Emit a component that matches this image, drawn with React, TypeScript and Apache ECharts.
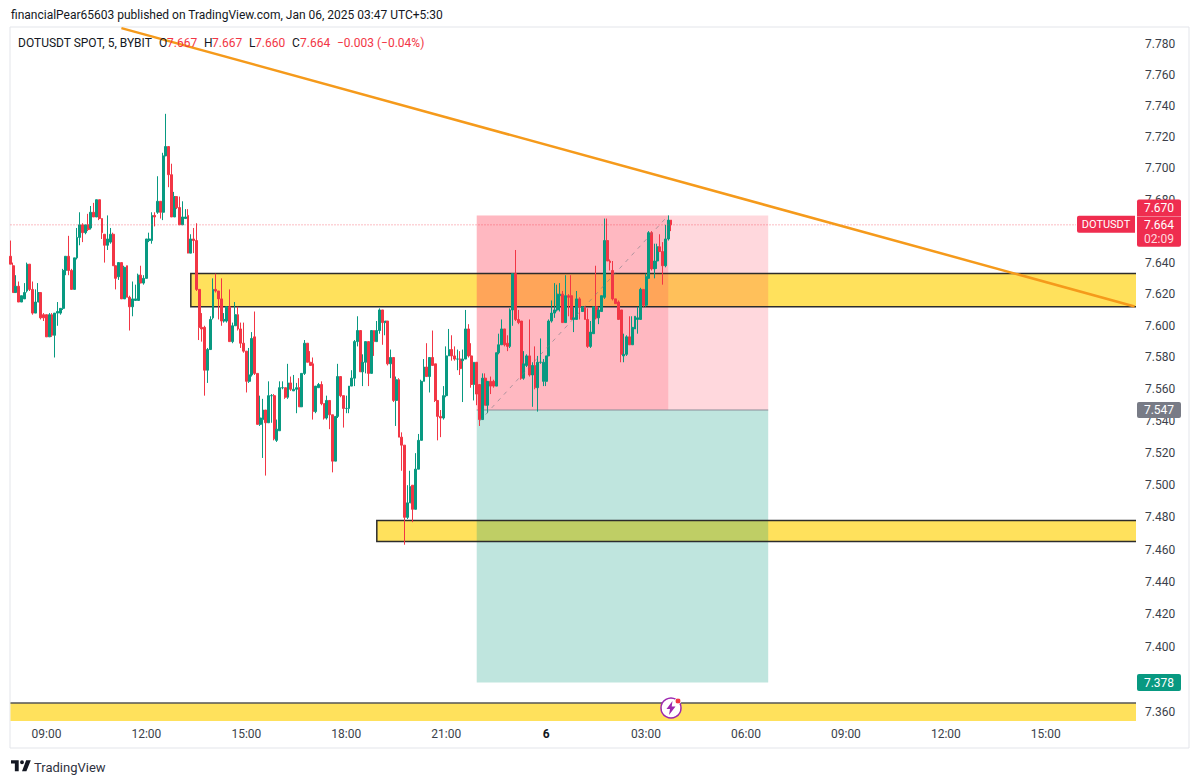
import React, { useEffect, useRef } from "react";
import * as echarts from "echarts";

// ---------- candle values (5 minute bars, the first one at 07:55) ----------
const opens = [
  7.644,7.638,7.621,7.625,7.615,7.617,7.622,7.639,7.623,7.608,
  7.615,7.621,7.607,7.607,7.593,7.607,7.594,7.608,7.608,7.611,
  7.635,7.644,7.635,7.623,7.643,7.656,7.664,7.659,7.664,7.662,
  7.672,7.669,7.680,7.668,7.658,7.651,7.653,7.658,7.638,7.631,
  7.640,7.617,7.638,7.618,7.612,7.616,7.616,7.632,7.627,7.630,
  7.654,7.654,7.670,7.672,7.679,7.672,7.708,7.714,7.696,7.669,
  7.682,7.675,7.664,7.668,7.670,7.646,7.655,7.654,7.623,7.599,
  7.599,7.572,7.585,7.605,7.623,7.622,7.617,7.603,7.603,7.612,
  7.590,7.600,7.607,7.598,7.589,7.584,7.565,7.569,7.593,7.570,
  7.538,7.541,7.547,7.539,7.556,7.556,7.528,7.534,7.561,7.561,
  7.555,7.564,7.559,7.560,7.561,7.549,7.570,7.589,7.577,7.576,
  7.546,7.561,7.563,7.551,7.542,7.553,7.544,7.515,7.543,7.568,
  7.556,7.548,7.548,7.562,7.567,7.590,7.597,7.571,7.577,7.590,
  7.570,7.597,7.590,7.597,7.610,7.602,7.603,7.576,7.580,7.553,
  7.566,7.530,7.525,7.480,7.489,7.500,7.485,7.510,7.528,7.565,
  7.574,7.568,7.580,7.576,7.553,7.543,7.542,7.556,7.581,7.585,
  7.581,7.579,7.579,7.578,7.579,7.598,7.581,7.563,7.577,7.563,
  7.541,7.567,7.550,7.565,7.565,7.562,7.583,7.588,7.598,7.589,
  7.587,7.610,7.633,7.604,7.603,7.567,7.575,7.581,7.569,7.575,
  7.561,7.577,7.565,7.565,7.581,7.603,7.608,7.610,7.619,7.620,
  7.602,7.619,7.619,7.604,7.604,7.617,7.609,7.612,7.604,7.587,
  7.595,7.612,7.605,7.609,7.618,7.654,7.641,7.635,7.617,7.615,
  7.610,7.581,7.582,7.593,7.588,7.598,7.604,7.604,7.623,7.613,
  7.630,7.659,7.636,7.641,7.650,7.647,7.638,7.655,7.667,
];
const highs = [
  7.654,7.640,7.632,7.628,7.619,7.627,7.640,7.639,7.628,7.623,
  7.627,7.621,7.608,7.607,7.608,7.608,7.608,7.615,7.611,7.636,
  7.644,7.657,7.636,7.643,7.662,7.672,7.665,7.664,7.671,7.676,
  7.678,7.680,7.680,7.668,7.658,7.670,7.662,7.659,7.638,7.640,
  7.640,7.638,7.638,7.619,7.628,7.626,7.633,7.638,7.632,7.655,
  7.659,7.672,7.672,7.695,7.679,7.710,7.735,7.714,7.703,7.685,
  7.682,7.682,7.679,7.674,7.674,7.658,7.662,7.665,7.623,7.608,
  7.600,7.586,7.606,7.630,7.633,7.622,7.630,7.608,7.612,7.623,
  7.602,7.615,7.612,7.602,7.602,7.584,7.586,7.596,7.609,7.570,
  7.556,7.554,7.547,7.565,7.557,7.557,7.541,7.565,7.565,7.561,
  7.576,7.568,7.569,7.564,7.567,7.570,7.591,7.589,7.584,7.580,
  7.562,7.564,7.565,7.551,7.556,7.553,7.544,7.543,7.576,7.568,
  7.556,7.556,7.562,7.572,7.591,7.606,7.597,7.582,7.590,7.590,
  7.597,7.597,7.603,7.611,7.610,7.603,7.603,7.585,7.580,7.568,
  7.567,7.533,7.525,7.500,7.509,7.500,7.520,7.532,7.566,7.579,
  7.589,7.580,7.597,7.576,7.553,7.547,7.562,7.587,7.598,7.594,
  7.587,7.585,7.584,7.585,7.610,7.601,7.589,7.577,7.577,7.563,
  7.570,7.570,7.565,7.568,7.566,7.583,7.595,7.604,7.598,7.594,
  7.611,7.633,7.648,7.610,7.603,7.584,7.582,7.604,7.577,7.587,
  7.581,7.592,7.579,7.581,7.604,7.616,7.627,7.626,7.627,7.622,
  7.632,7.620,7.632,7.612,7.622,7.618,7.612,7.612,7.611,7.603,
  7.612,7.638,7.612,7.619,7.668,7.668,7.642,7.641,7.617,7.616,
  7.610,7.595,7.594,7.606,7.606,7.606,7.612,7.624,7.623,7.633,
  7.660,7.660,7.652,7.652,7.658,7.653,7.664,7.670,7.667,
];
const lows = [
  7.639,7.621,7.621,7.615,7.615,7.617,7.621,7.622,7.607,7.608,
  7.615,7.604,7.603,7.593,7.593,7.593,7.580,7.600,7.607,7.610,
  7.632,7.632,7.623,7.623,7.642,7.651,7.653,7.658,7.660,7.661,
  7.669,7.669,7.667,7.655,7.640,7.648,7.652,7.638,7.623,7.629,
  7.617,7.617,7.618,7.597,7.606,7.616,7.616,7.627,7.626,7.630,
  7.653,7.652,7.663,7.671,7.668,7.667,7.708,7.688,7.669,7.669,
  7.674,7.664,7.664,7.668,7.646,7.646,7.646,7.622,7.591,7.590,
  7.556,7.564,7.585,7.604,7.621,7.604,7.600,7.602,7.602,7.590,
  7.589,7.600,7.597,7.586,7.583,7.558,7.564,7.568,7.569,7.538,
  7.537,7.517,7.506,7.539,7.539,7.528,7.527,7.534,7.560,7.554,
  7.554,7.559,7.559,7.545,7.549,7.549,7.569,7.577,7.575,7.541,
  7.545,7.561,7.550,7.541,7.541,7.535,7.508,7.515,7.542,7.555,
  7.536,7.545,7.545,7.562,7.562,7.587,7.571,7.562,7.570,7.562,
  7.570,7.581,7.590,7.595,7.588,7.594,7.575,7.567,7.552,7.537,
  7.530,7.509,7.463,7.479,7.489,7.477,7.485,7.510,7.528,7.565,
  7.568,7.558,7.575,7.552,7.528,7.530,7.541,7.555,7.581,7.578,
  7.578,7.572,7.569,7.552,7.579,7.580,7.561,7.553,7.550,7.537,
  7.541,7.550,7.545,7.557,7.561,7.562,7.582,7.588,7.587,7.584,
  7.586,7.600,7.603,7.601,7.566,7.566,7.574,7.568,7.549,7.560,
  7.546,7.576,7.562,7.562,7.581,7.602,7.605,7.609,7.609,7.602,
  7.602,7.606,7.604,7.596,7.604,7.604,7.609,7.604,7.586,7.586,
  7.595,7.604,7.601,7.609,7.617,7.641,7.635,7.616,7.614,7.604,
  7.577,7.577,7.581,7.588,7.588,7.598,7.595,7.604,7.612,7.612,
  7.630,7.635,7.630,7.636,7.647,7.626,7.637,7.654,7.660,
];
const closes = [
  7.639,7.621,7.625,7.615,7.619,7.621,7.639,7.623,7.608,7.615,
  7.621,7.605,7.605,7.593,7.607,7.594,7.608,7.609,7.611,7.635,
  7.644,7.635,7.623,7.643,7.656,7.664,7.659,7.664,7.661,7.672,
  7.669,7.680,7.668,7.659,7.651,7.655,7.658,7.638,7.630,7.640,
  7.617,7.637,7.618,7.612,7.617,7.617,7.632,7.627,7.630,7.655,
  7.655,7.670,7.669,7.679,7.672,7.708,7.714,7.696,7.669,7.682,
  7.675,7.664,7.669,7.669,7.646,7.655,7.654,7.623,7.599,7.598,
  7.572,7.585,7.604,7.623,7.622,7.617,7.603,7.604,7.612,7.590,
  7.600,7.607,7.598,7.589,7.584,7.565,7.569,7.592,7.570,7.538,
  7.542,7.547,7.539,7.556,7.556,7.529,7.535,7.561,7.561,7.555,
  7.564,7.560,7.560,7.561,7.549,7.570,7.589,7.577,7.575,7.546,
  7.562,7.563,7.551,7.542,7.553,7.544,7.515,7.543,7.568,7.556,
  7.548,7.548,7.562,7.567,7.590,7.597,7.571,7.577,7.590,7.570,
  7.597,7.590,7.597,7.610,7.602,7.603,7.576,7.580,7.553,7.566,
  7.530,7.525,7.480,7.489,7.499,7.485,7.510,7.528,7.565,7.574,
  7.568,7.580,7.575,7.553,7.543,7.542,7.556,7.581,7.585,7.581,
  7.579,7.579,7.573,7.579,7.598,7.581,7.563,7.577,7.557,7.541,
  7.567,7.550,7.565,7.562,7.562,7.583,7.588,7.598,7.588,7.587,
  7.610,7.633,7.604,7.602,7.567,7.576,7.581,7.569,7.575,7.561,
  7.577,7.577,7.577,7.581,7.603,7.608,7.610,7.620,7.620,7.602,
  7.619,7.618,7.604,7.605,7.617,7.612,7.612,7.604,7.587,7.596,
  7.612,7.605,7.610,7.619,7.654,7.641,7.640,7.617,7.614,7.604,
  7.582,7.582,7.593,7.588,7.599,7.606,7.605,7.623,7.613,7.631,
  7.659,7.636,7.641,7.650,7.647,7.638,7.655,7.667,7.664,
];

// ---------- axes ----------
const BAR_COUNT = 406; // visible slots, future bars included
const FIRST_BAR_MINUTES = 7 * 60 + 55;
const priceTicks = [
  7.36, 7.4, 7.42, 7.44, 7.46, 7.48, 7.5, 7.52, 7.54, 7.56, 7.58, 7.6, 7.62,
  7.64, 7.68, 7.7, 7.72, 7.74, 7.76, 7.78,
];
const timeTicks = ["09:00", "12:00", "15:00", "18:00", "21:00", "00:00", "03:00", "06:00"];
const categories: string[] = [];
for (let k = 0; k < BAR_COUNT; k++) {
  const m = (FIRST_BAR_MINUTES + 5 * k) % 1440;
  categories.push(
    String(Math.floor(m / 60)).padStart(2, "0") + ":" + String(m % 60).padStart(2, "0")
  );
}
const PRICE_MIN = 7.3539;
const PRICE_MAX = 7.791;

// ---------- drawings: bar indexes and prices ----------
// zone: [first bar, top price, bottom price, top+bottom border?]
const zones: [number, number, number, boolean][] = [
  [65, 7.633, 7.612, true],
  [132, 7.478, 7.465, true],
  [0, 7.3655, 7.3545, false],
];
const positionStart = 168;
const positionNow = 237;
const positionEnd = 273;
const stopPrice = 7.67;
const entryPrice = 7.547;
const targetPrice = 7.378;
const lastPrice = 7.664;
const trendPoints: [number, number][] = [[40, 7.7903], [405, 7.6122]];
const pricePathPoints: [number, number][] = [[169, 7.54], [237, 7.67]];

const UP = "#089981";
const DOWN = "#F23645";
const TAG_RED = "#EF2D4F";
const FONT = "Roboto, sans-serif";

echarts.graphic.registerShape(
  "tvlogo",
  echarts.graphic.extendPath(
    "M14 6H0v6h7v14h7V6Z M28 26h-8l7.5-20H36l-8 20Z M20 6a3.5 3.5 0 1 1 0 7a3.5 3.5 0 1 1 0-7Z",
    {}
  )
);
echarts.graphic.registerShape(
  "bolt",
  echarts.graphic.extendPath("M6 0L0 8h3.5L2.5 14L9 5.5H5.2L6 0Z", {})
);

function overlay(z: number, build: (api: any, box: any) => any[]) {
  return {
    type: "custom",
    z,
    silent: true,
    clip: false,
    coordinateSystem: "cartesian2d",
    encode: { x: 0, y: 1 },
    data: [[0, 7.5]],
    renderItem: (params: any, api: any) => ({
      type: "group",
      children: build(api, params.coordSys),
    }),
  };
}

function rectOf(x1: number, y1: number, x2: number, y2: number, fill: string) {
  return {
    type: "rect",
    shape: { x: x1, y: y1, width: x2 - x1, height: y2 - y1 },
    style: { fill },
  };
}
function hLine(x1: number, x2: number, y: number, stroke: string, lineWidth: number, lineDash?: number[]) {
  return {
    type: "line",
    shape: { x1, y1: y, x2, y2: y },
    style: { stroke, lineWidth, lineDash },
  };
}
function labelText(text: string, x: number, y: number, font: string, fill: string, align = "center") {
  return {
    type: "text",
    style: {
      text, x, y, fill, font,
      align, verticalAlign: "middle",
      textAlign: align, textVerticalAlign: "middle",
    },
  };
}
function tagBox(x: number, y: number, w: number, h: number, fill: string, r: any) {
  return { type: "rect", shape: { x, y, width: w, height: h, r }, style: { fill } };
}

export default function App() {
  const ref = useRef<HTMLDivElement>(null);

  useEffect(() => {
    document.body.style.margin = "0";
    document.body.style.background = "#ffffff";
    const chart = echarts.init(ref.current!, undefined, { renderer: "svg" });

    const candleData = opens.map((o, i) => [o, closes[i], lows[i], highs[i]]);

    const legendParts: [string, number, string][] = [
      ["DOTUSDT SPOT, 5, BYBIT", 18, "#131722"],
      ["O", 159, "#131722"],
      ["7.667", 167, DOWN],
      ["H", 204, "#131722"],
      ["7.667", 212, DOWN],
      ["L", 249, "#131722"],
      ["7.660", 255, DOWN],
      ["C", 292, "#131722"],
      ["7.664", 300, DOWN],
      ["\u22120.003 (\u22120.04%)", 337, DOWN],
    ];

    chart.setOption({
      animation: false,
      backgroundColor: "#ffffff",
      grid: { left: 9, top: 27, width: 1127, height: 695, containLabel: false },
      xAxis: {
        type: "category",
        data: categories,
        boundaryGap: true,
        axisLine: { show: false },
        axisTick: { show: false },
        splitLine: { show: false },
        axisLabel: {
          interval: (_i: number, v: string) => timeTicks.includes(v),
          hideOverlap: false,
          margin: 6,
          color: "#3b3f4a",
          fontFamily: FONT,
          fontSize: 12,
          formatter: (v: string) => (v === "00:00" ? "{d|6}" : v),
          rich: { d: { fontWeight: "bold", fontSize: 12, fontFamily: FONT, color: "#131722" } },
        },
      },
      yAxis: {
        type: "log",
        logBase: 10,
        position: "right",
        min: PRICE_MIN,
        max: PRICE_MAX,
        axisLine: { show: false },
        axisTick: { show: false },
        splitLine: { show: false },
        axisLabel: {
          customValues: priceTicks,
          margin: 9,
          color: "#3b3f4a",
          fontFamily: FONT,
          fontSize: 12,
          formatter: (v: number) => Number(v).toFixed(3),
        },
      },
      series: [
        // yellow zones
        overlay(1, (api, box) =>
          zones.map(([k, top, bottom]) => {
            const [x, y1] = api.coord([k, top]);
            const y2 = api.coord([k, bottom])[1];
            const x1 = k === 0 ? 10.5 : x;
            return rectOf(x1, y1, box.x + box.width, y2, "#FFE15C");
          })
        ),
        // long/short position boxes
        overlay(2, (api) => {
          const [x1, yStop] = api.coord([positionStart, stopPrice]);
          const [x2, yEntry] = api.coord([positionEnd, entryPrice]);
          const yTarget = api.coord([positionEnd, targetPrice])[1];
          const xNow = api.coord([positionNow, entryPrice])[0];
          return [
            rectOf(x1, yStop, x2, yEntry, "rgba(255,60,85,0.2)"),
            rectOf(x1, yStop, xNow, yEntry, "rgba(255,60,85,0.2)"),
            rectOf(x1, yEntry, x2, yTarget, "rgba(8,153,129,0.26)"),
            hLine(x1, x2, yEntry, "#8a8d97", 1),
          ];
        }),
        // zone borders
        overlay(3, (api, box) => {
          const out: any[] = [];
          zones.forEach(([k, top, bottom, closed]) => {
            const [x, y1] = api.coord([k, top]);
            const y2 = api.coord([k, bottom])[1];
            const x1 = k === 0 ? 10.5 : x;
            const x2 = box.x + box.width;
            if (closed) {
              out.push({
                type: "polyline",
                shape: { points: [[x2, y1], [x1, y1], [x1, y2], [x2, y2]] },
                style: { stroke: "#2c2c2c", lineWidth: 1.5, fill: "none" },
              });
            } else {
              out.push(hLine(x1, x2, y1, "#555555", 1.5));
            }
          });
          return out;
        }),
        {
          type: "candlestick",
          z: 4,
          silent: true,
          barWidth: 2.4,
          data: candleData,
          itemStyle: {
            color: UP,
            color0: DOWN,
            borderColor: UP,
            borderColor0: DOWN,
            borderWidth: 1,
          },
        },
        // dotted current-price line
        overlay(5, (api, box) => {
          const y = api.coord([0, lastPrice])[1];
          return [hLine(10.5, 1076, y, "rgba(242,54,69,0.65)", 1, [1, 2])];
        }),
        {
          type: "line",
          z: 5,
          silent: true,
          symbol: "none",
          data: pricePathPoints,
          lineStyle: { color: "rgba(120,123,134,0.6)", width: 1, type: [4, 5] },
        },
        {
          type: "line",
          z: 6,
          silent: true,
          symbol: "none",
          data: trendPoints,
          lineStyle: { color: "#F59A1B", width: 2.5 },
        },
        // price tags on the right
        overlay(8, (api, box) => {
          const right = box.x + box.width;
          const xTag = right + 1;
          const yStop = api.coord([0, stopPrice])[1];
          const yLast = api.coord([0, lastPrice])[1];
          const yEntry = api.coord([0, entryPrice])[1];
          const yTarget = api.coord([0, targetPrice])[1];
          const small = `12px ${FONT}`;
          return [
            tagBox(1077, yLast - 9, 58, 17, TAG_RED, [2, 0, 0, 2]),
            labelText("DOTUSDT", 1106, yLast, `11px ${FONT}`, "#ffffff"),
            tagBox(xTag, yStop - 16, 44, 17, TAG_RED, [2, 2, 0, 0]),
            labelText(stopPrice.toFixed(3), xTag + 22, yStop - 7.5, small, "#ffffff"),
            tagBox(xTag, yLast - 8, 44, 30, TAG_RED, [0, 0, 2, 2]),
            labelText(lastPrice.toFixed(3), xTag + 22, yLast, small, "#ffffff"),
            labelText("02:09", xTag + 22, yLast + 14, small, "#ffd9df"),
            tagBox(xTag, yEntry - 8, 44, 16, "#787B86", 2),
            labelText(entryPrice.toFixed(3), xTag + 22, yEntry, small, "#ffffff"),
            tagBox(xTag, yTarget - 8.5, 44, 17, UP, 2),
            labelText(targetPrice.toFixed(3), xTag + 22, yTarget, small, "#ffffff"),
          ];
        }),
      ],
      graphic: [
        {
          type: "rect",
          z: -1,
          silent: true,
          shape: { x: 10, y: 27, width: 1179, height: 721 },
          style: { fill: "none", stroke: "#e3e5ea", lineWidth: 1 },
        },
        {
          type: "text",
          x: 11,
          y: 15,
          style: {
            text: "financialPear65603 published on TradingView.com, Jan 06, 2025 03:47 UTC+5:30",
            fill: "#131722",
            font: `12px ${FONT}`,
            textVerticalAlign: "middle",
          },
        },
        ...legendParts.map(([text, x, fill]) => ({
          type: "text",
          z: 20,
          x,
          y: 43,
          style: { text, fill, font: `12px ${FONT}`, textVerticalAlign: "middle" },
        })),
        // alert badge
        {
          type: "circle",
          z: 30,
          shape: { cx: 671, cy: 708, r: 10 },
          style: { fill: "#ffffff", stroke: "#9C27B0", lineWidth: 1.5 },
        },
        {
          type: "bolt",
          z: 31,
          x: 666.5,
          y: 701,
          style: { fill: "#9C27B0" },
        },
        {
          type: "circle",
          z: 32,
          shape: { cx: 678, cy: 701, r: 3 },
          style: { fill: "#F23645", stroke: "#ffffff", lineWidth: 1 },
        },
        // footer logo
        {
          type: "tvlogo",
          x: 11,
          y: 757,
          scaleX: 0.55,
          scaleY: 0.55,
          style: { fill: "#131722" },
        },
        {
          type: "text",
          x: 34,
          y: 767,
          style: {
            text: "TradingView",
            fill: "#2f3240",
            font: `13px ${FONT}`,
            textVerticalAlign: "middle",
          },
        },
      ],
    });

    return () => chart.dispose();
  }, []);

  return <div ref={ref} style={{ width: 1200, height: 784 }} />;
}
